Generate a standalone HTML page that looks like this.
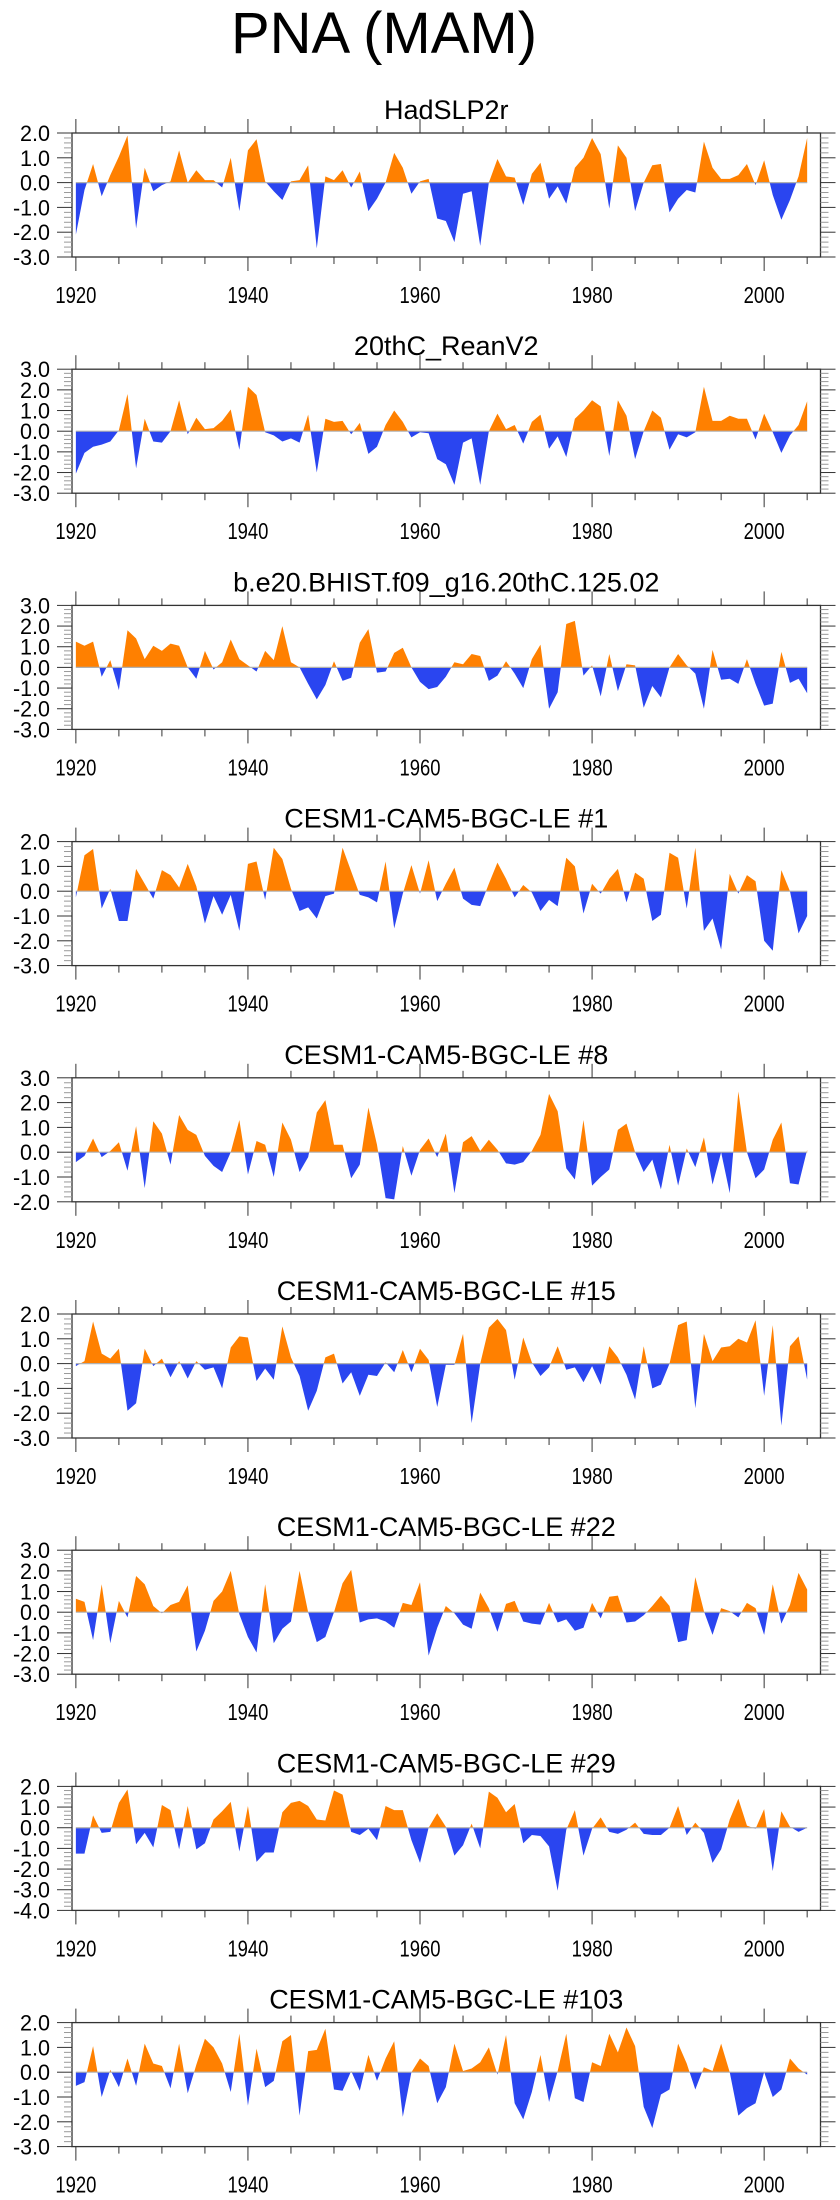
<!DOCTYPE html>
<html><head><meta charset="utf-8">
<style>
html,body{margin:0;padding:0;background:#fff;}
svg{display:block;font-family:"Liberation Sans",Arial,sans-serif;}
</style></head>
<body>
<svg id="chart" width="840" height="2200" viewBox="0 0 840 2200" xmlns="http://www.w3.org/2000/svg">
<text x="384" y="53" font-size="58" text-anchor="middle" fill="#000">PNA (MAM)</text>
</svg>
<script>
const titles = ["HadSLP2r","20thC_ReanV2","b.e20.BHIST.f09_g16.20thC.125.02","CESM1-CAM5-BGC-LE #1","CESM1-CAM5-BGC-LE #8","CESM1-CAM5-BGC-LE #15","CESM1-CAM5-BGC-LE #22","CESM1-CAM5-BGC-LE #29","CESM1-CAM5-BGC-LE #103"];
const yMins = [-3,-3,-3,-3,-2,-3,-3,-4,-3];
const yMaxs = [2,3,3,2,3,2,3,2,2];
const xTickLabels = ["1920","1940","1960","1980","2000"];
const startYear = 1920;
const s1 = [-2.1,-0.3,0.75,-0.55,0.3,1.05,1.9,-1.85,0.6,-0.35,-0.1,0.05,1.3,0,0.5,0.1,0.1,-0.2,1.0,-1.15,1.3,1.75,0.05,-0.35,-0.7,0.05,0.1,0.7,-2.65,0.25,0.1,0.5,-0.2,0.45,-1.15,-0.65,0,1.2,0.6,-0.45,0.05,0.15,-1.45,-1.55,-2.4,-0.45,-0.35,-2.55,0,0.95,0.25,0.2,-0.9,0.35,0.8,-0.65,-0.15,-0.85,0.6,1.0,1.8,1.15,-1.05,1.5,1.0,-1.15,0,0.7,0.75,-1.2,-0.65,-0.3,-0.4,1.65,0.6,0.15,0.15,0.3,0.75,-0.1,0.9,-0.5,-1.5,-0.7,0.25,1.8];
const s2 = [-2.05,-1.05,-0.75,-0.65,-0.5,0.05,1.8,-1.8,0.6,-0.5,-0.55,0,1.5,-0.15,0.65,0.1,0.15,0.5,1.05,-0.9,2.15,1.75,-0.05,-0.2,-0.5,-0.35,-0.55,0.8,-2.0,0.6,0.45,0.5,-0.15,0.4,-1.1,-0.75,0.3,1.0,0.45,-0.3,-0.05,-0.1,-1.35,-1.6,-2.6,-0.55,-0.35,-2.6,0,0.85,0.1,0.3,-0.6,0.45,0.8,-0.85,-0.25,-1.25,0.6,1.0,1.5,1.2,-1.2,1.5,0.75,-1.35,0,1.0,0.65,-0.9,-0.15,-0.3,-0.05,2.15,0.5,0.5,0.75,0.6,0.6,-0.4,0.85,-0.05,-1.05,-0.2,0.3,1.45];
const s3 = [1.25,1.05,1.25,-0.45,0.35,-1.1,1.8,1.4,0.4,1.05,0.8,1.15,1.05,0,-0.55,0.8,-0.1,0.25,1.35,0.4,0.1,-0.2,0.8,0.35,2.0,0.25,0,-0.8,-1.55,-0.85,0.3,-0.65,-0.5,1.2,1.85,-0.25,-0.2,0.7,0.95,0,-0.7,-1.05,-0.95,-0.45,0.25,0.15,0.65,0.55,-0.65,-0.4,0.3,-0.3,-1.0,0.4,1.1,-2.0,-1.2,2.1,2.25,-0.4,0.1,-1.4,0.65,-1.15,0.15,0.1,-1.95,-0.9,-1.45,0,0.65,0.1,-0.3,-2.0,0.85,-0.6,-0.55,-0.8,0.4,-0.8,-1.85,-1.75,0.75,-0.75,-0.55,-1.25];
const s4 = [-0.25,1.45,1.7,-0.7,0.1,-1.2,-1.2,0.9,0.3,-0.3,0.85,0.65,0.15,1.1,0.2,-1.3,-0.2,-0.95,-0.15,-1.6,1.1,1.2,-0.35,1.75,1.3,0.1,-0.8,-0.65,-1.1,-0.2,-0.1,1.75,0.8,-0.15,-0.25,-0.45,1.2,-1.5,-0.1,1.05,-0.1,1.25,-0.4,0.3,0.95,-0.3,-0.55,-0.6,0.3,1.15,0.5,-0.25,0.25,-0.05,-0.8,-0.35,-0.6,1.35,1.0,-0.9,0.3,-0.1,0.5,0.9,-0.45,0.75,0.5,-1.2,-0.95,1.55,1.35,-0.7,1.75,-1.6,-1.1,-2.35,0.7,-0.1,0.65,0.4,-2.0,-2.4,0.85,0,-1.7,-1.0];
const s5 = [-0.4,-0.15,0.55,-0.2,0.05,0.4,-0.75,1.05,-1.45,1.25,0.75,-0.5,1.5,0.9,0.7,-0.15,-0.55,-0.8,0,1.3,-0.9,0.45,0.3,-1.0,1.2,0.5,-0.8,-0.2,1.6,2.1,0.3,0.3,-1.05,-0.5,1.8,0.3,-1.85,-1.9,0.25,-0.95,0.1,0.55,-0.2,0.75,-1.65,0.4,0.65,0.05,0.5,0.1,-0.45,-0.5,-0.4,0.05,0.7,2.35,1.65,-0.65,-1.1,1.3,-1.35,-1.0,-0.7,0.9,1.15,0,-0.8,-0.3,-1.5,0.3,-1.35,0.15,-0.6,0.6,-1.3,0,-1.65,2.45,0,-1.05,-0.7,0.5,1.2,-1.25,-1.3,0.1];
const s6 = [-0.1,0.1,1.7,0.4,0.2,0.6,-1.9,-1.6,0.6,-0.1,0.2,-0.55,0.1,-0.6,0.1,-0.25,-0.15,-1.0,0.65,1.1,1.05,-0.7,-0.2,-0.65,1.5,0.25,-0.5,-1.9,-1.1,0.25,0.4,-0.8,-0.35,-1.3,-0.45,-0.5,0.05,-0.35,0.55,-0.35,0.6,0.15,-1.75,-0.05,-0.05,1.2,-2.4,0,1.45,1.8,1.35,-0.65,1.05,0.05,-0.5,-0.15,0.7,-0.25,-0.15,-0.75,-0.1,-0.85,0.7,0.25,-0.45,-1.45,0.7,-1.0,-0.85,0,1.55,1.7,-1.8,1.2,0.1,0.65,0.7,1.0,0.85,1.75,-1.3,1.55,-2.5,0.7,1.1,-0.65];
const s7 = [0.65,0.5,-1.35,1.35,-1.5,0.55,-0.25,1.75,1.35,0.3,-0.05,0.35,0.5,1.3,-1.9,-0.9,0.55,1.0,2.0,-0.1,-1.2,-1.95,1.35,-1.5,-0.8,-0.45,2.0,0,-1.45,-1.2,0,1.4,2.05,-0.5,-0.35,-0.3,-0.45,-0.75,0.45,0.35,1.45,-2.1,-0.75,0.3,-0.05,-0.6,-0.8,0.95,0.2,-0.95,0.4,0.55,-0.45,-0.55,-0.6,0.45,-0.5,-0.35,-0.9,-0.75,0.45,-0.3,0.75,0.8,-0.5,-0.45,-0.15,0.3,0.8,0.3,-1.45,-1.35,1.7,0.05,-1.1,0.2,0.05,-0.25,0.45,0.2,-1.1,1.35,-0.55,0.35,1.9,1.1];
const s8 = [-1.25,-1.25,0.6,-0.25,-0.2,1.2,1.85,-0.8,-0.25,-0.95,1.1,0.85,-1.05,1.05,-1.05,-0.75,0.4,0.8,1.25,-1.15,1.05,-1.65,-1.2,-1.2,0.75,1.2,1.3,1.05,0.4,0.35,1.8,1.6,-0.2,-0.35,-0.05,-0.6,1.05,0.85,0.85,-0.6,-1.7,0,0.7,0.05,-1.35,-0.85,0.2,-1.0,1.75,1.45,0.75,1.15,-0.75,-0.35,-0.4,-0.9,-3.05,-0.1,0.85,-1.35,-0.05,0.5,-0.2,-0.3,-0.1,0.25,-0.3,-0.35,-0.35,0,1.05,-0.35,0.25,-0.25,-1.7,-1.05,0.4,1.4,0.1,-0.05,0.9,-2.1,0.8,0.05,-0.2,0];
const s9 = [-0.55,-0.4,1.05,-1.0,0.1,-0.6,0.55,-0.55,1.15,0.35,0.25,-0.65,1.15,-0.85,0.3,1.35,1.0,0.35,-0.8,1.55,-1.35,0.95,-0.6,-0.35,1.25,1.5,-1.75,0.85,0.9,1.75,-0.7,-0.75,0.05,-0.75,0.7,-0.35,0.55,1.25,-1.8,0,0.55,0.25,-1.25,-0.6,1.15,0.05,0.15,0.4,1.0,-0.1,1.5,-1.25,-1.9,-0.8,0.7,-1.2,0.05,1.55,-1.05,-1.2,0.4,0.25,1.55,0.8,1.8,1.05,-1.4,-2.25,-0.9,-0.7,1.15,0.35,-0.7,0.2,0.05,1.15,0,-1.75,-1.45,-1.25,0,-1.0,-0.7,0.55,0.15,-0.1];
const seriesList = [s1,s2,s3,s4,s5,s6,s7,s8,s9];

const NS = "http://www.w3.org/2000/svg";
const svg = document.getElementById("chart");
const boxL = 72, boxR = 820.5, boxH = 124;
const panelTop0 = 133, panelStep = 236.2;
const x0 = 1919.55, x1 = 2006.55;
function xScale(yr){ return boxL + (yr - x0) / (x1 - x0) * (boxR - boxL); }
function mk(tag, attrs, parent){
  const e = document.createElementNS(NS, tag);
  for (const k in attrs) e.setAttribute(k, attrs[k]);
  (parent || svg).appendChild(e);
  return e;
}
seriesList.forEach(function(data, p){
  const top = panelTop0 + panelStep * p;
  const bot = top + boxH;
  const ymin = yMins[p], ymax = yMaxs[p];
  const yScale = function(v){ return bot - (v - ymin) / (ymax - ymin) * boxH; };
  const g = mk("g", {});
  
  
  const t = mk("text", {x: (boxL + boxR) / 2, y: top - 14, "font-size": 27, "text-anchor": "middle", fill: "#000"}, g);
  t.textContent = titles[p];
  
  
  const pts = [];
  for (let i = 0; i < data.length; i++) {
    const yr = startYear + i, v = data[i];
    if (i > 0) {
      const pv = data[i - 1];
      if ((pv > 0 && v < 0) || (pv < 0 && v > 0)) {
        const f = pv / (pv - v);
        pts.push([yr - 1 + f, 0]);
      }
    }
    pts.push([yr, v]);
  }
  const z = yScale(0);
  let pos = "M" + xScale(pts[0][0]) + "," + z;
  let neg = "M" + xScale(pts[0][0]) + "," + z;
  pts.forEach(function(q){
    pos += " L" + xScale(q[0]).toFixed(2) + "," + yScale(Math.max(q[1], 0)).toFixed(2);
    neg += " L" + xScale(q[0]).toFixed(2) + "," + yScale(Math.min(q[1], 0)).toFixed(2);
  });
  const lastX = xScale(pts[pts.length - 1][0]);
  pos += " L" + lastX + "," + z + " Z";
  neg += " L" + lastX + "," + z + " Z";
  const pa = mk("path", {d: pos, fill: "#ff8000", stroke: "none"}, g);
  
  
  const na = mk("path", {d: neg, fill: "#2a45f0", stroke: "none"}, g);
  
  
  const zl = mk("line", {x1: xScale(startYear), x2: xScale(startYear + data.length - 1), y1: z, y2: z, stroke: "#b0b0b0", "stroke-width": 1.2}, g);
  
  
  const box = mk("rect", {x: boxL, y: top, width: boxR - boxL, height: boxH, fill: "none", stroke: "#333", "stroke-width": 1.3}, g);
  
  
  for (let k = 0; k <= (ymax - ymin) * 5; k++) {
    const v = ymin + k * 0.2;
    const yy = yScale(v);
    const major = k % 5 === 0;
    const len = major ? 15 : 8;
    mk("line", {x1: boxL - len, x2: boxL, y1: yy, y2: yy, stroke: major ? "#333" : "#999", "stroke-width": 1}, g);
    mk("line", {x1: boxR, x2: boxR + len, y1: yy, y2: yy, stroke: major ? "#333" : "#999", "stroke-width": 1}, g);
    if (major) {
      const txt = v.toFixed(1);
      const lab = mk("text", {x: 50, y: yy + 8, "font-size": 22, "text-anchor": "end", fill: "#000", textLength: txt.length === 4 ? 37 : 30, lengthAdjust: "spacingAndGlyphs"}, g);
      lab.textContent = txt;
      
      
    }
  }
  for (let yr = 1920; yr <= 2005; yr += 5) {
    const xx = xScale(yr);
    const major = (yr - 1920) % 20 === 0;
    const len = major ? 14 : 7;
    mk("line", {x1: xx, x2: xx, y1: top - len, y2: top, stroke: "#333", "stroke-width": 1}, g);
    mk("line", {x1: xx, x2: xx, y1: bot, y2: bot + len, stroke: "#333", "stroke-width": 1}, g);
  }
  xTickLabels.forEach(function(lbl){
    const xl = mk("text", {x: xScale(+lbl), y: bot + 46, "font-size": 23, "text-anchor": "middle", fill: "#000", textLength: 41, lengthAdjust: "spacingAndGlyphs"}, g);
    xl.textContent = lbl;
    
    
  });
});
</script>
</body></html>
